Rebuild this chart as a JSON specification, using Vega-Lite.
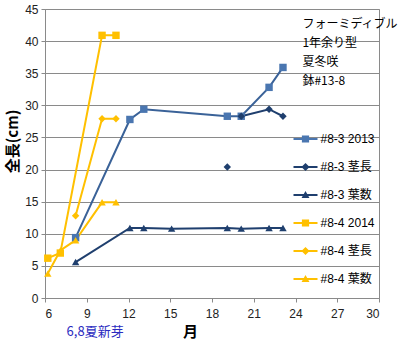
{
  "$schema": "https://vega.github.io/schema/vega-lite/v6.json",
  "width": 334,
  "height": 289,
  "autosize": {"type": "none"},
  "padding": {"left": 45, "top": 9, "right": 34, "bottom": 43},
  "background": "white",
  "config": {
    "view": {"stroke": "#8a8a8a", "strokeWidth": 1},
    "axis": {
      "labelFont": "Liberation Sans",
      "labelFontSize": 12,
      "labelColor": "#222222",
      "domainColor": "#8a8a8a",
      "tickColor": "#8a8a8a",
      "gridColor": "#8a8a8a",
      "tickSize": 4,
      "titleFont": "Noto Sans CJK JP",
      "titleColor": "#000000",
      "titleFontWeight": "bold"
    }
  },
  "data": {
    "values": [
      {"s": "#8-3 2013", "x": 8.2, "y": 9.4, "seg": 1},
      {"s": "#8-3 2013", "x": 12.1, "y": 27.8, "seg": 1},
      {"s": "#8-3 2013", "x": 13.1, "y": 29.4, "seg": 1},
      {"s": "#8-3 2013", "x": 19.1, "y": 28.3, "seg": 1},
      {"s": "#8-3 2013", "x": 20.1, "y": 28.3, "seg": 1},
      {"s": "#8-3 2013", "x": 22.1, "y": 32.8, "seg": 1},
      {"s": "#8-3 2013", "x": 23.1, "y": 35.9, "seg": 1},
      {"s": "#8-3 茎長", "x": 19.1, "y": 20.4, "seg": 2},
      {"s": "#8-3 茎長", "x": 20.1, "y": 28.3, "seg": 1},
      {"s": "#8-3 茎長", "x": 22.1, "y": 29.4, "seg": 1},
      {"s": "#8-3 茎長", "x": 23.1, "y": 28.3, "seg": 1},
      {"s": "#8-3 葉数", "x": 8.2, "y": 5.6, "seg": 1},
      {"s": "#8-3 葉数", "x": 12.1, "y": 10.9, "seg": 1},
      {"s": "#8-3 葉数", "x": 13.1, "y": 10.9, "seg": 1},
      {"s": "#8-3 葉数", "x": 15.1, "y": 10.8, "seg": 1},
      {"s": "#8-3 葉数", "x": 19.1, "y": 10.9, "seg": 1},
      {"s": "#8-3 葉数", "x": 20.1, "y": 10.8, "seg": 1},
      {"s": "#8-3 葉数", "x": 22.1, "y": 10.9, "seg": 1},
      {"s": "#8-3 葉数", "x": 23.1, "y": 10.9, "seg": 1},
      {"s": "#8-4 2014", "x": 6.2, "y": 6.2, "seg": 1},
      {"s": "#8-4 2014", "x": 7.1, "y": 7.0, "seg": 1},
      {"s": "#8-4 2014", "x": 10.1, "y": 40.9, "seg": 1},
      {"s": "#8-4 2014", "x": 11.1, "y": 40.9, "seg": 1},
      {"s": "#8-4 茎長", "x": 8.2, "y": 12.8, "seg": 1},
      {"s": "#8-4 茎長", "x": 10.1, "y": 27.9, "seg": 1},
      {"s": "#8-4 茎長", "x": 11.1, "y": 27.9, "seg": 1},
      {"s": "#8-4 葉数", "x": 6.2, "y": 3.8, "seg": 1},
      {"s": "#8-4 葉数", "x": 7.1, "y": 7.4, "seg": 1},
      {"s": "#8-4 葉数", "x": 8.2, "y": 9.0, "seg": 1},
      {"s": "#8-4 葉数", "x": 10.1, "y": 14.9, "seg": 1},
      {"s": "#8-4 葉数", "x": 11.1, "y": 14.9, "seg": 1}
    ]
  },
  "resolve": {"scale": {"shape": "independent", "color": "independent"}},
  "layer": [
    {
      "mark": {"type": "line", "strokeWidth": 2},
      "encoding": {
        "x": {
          "field": "x", "type": "quantitative",
          "scale": {"domain": [6, 30], "nice": false, "zero": false},
          "axis": {"values": [6, 9, 12, 15, 18, 21, 24, 27, 30], "grid": false, "title": "月", "titleFontSize": 15, "titleX": 145, "titleY": 33, "titleBaseline": "middle", "labelPadding": 6}
        },
        "y": {
          "field": "y", "type": "quantitative",
          "scale": {"domain": [0, 45], "nice": false},
          "axis": {"values": [0, 5, 10, 15, 20, 25, 30, 35, 40, 45], "grid": true, "title": "全長(cm)", "titleFontSize": 15, "titleX": -33, "titleY": 132, "titleBaseline": "middle", "titleAlign": "center", "labelPadding": 3}
        },
        "stroke": {
          "field": "s", "type": "nominal", "legend": null,
          "scale": {"domain": ["#8-3 2013", "#8-3 茎長", "#8-3 葉数", "#8-4 2014", "#8-4 茎長", "#8-4 葉数"],
                    "range": ["#3a6298", "#1f3f6e", "#1f3f6e", "#ffc000", "#ffc000", "#ffc000"]}
        },
        "detail": {"field": "seg", "type": "nominal"},
        "order": {"field": "x", "type": "quantitative"}
      }
    },
    {
      "mark": {"type": "point", "filled": true, "opacity": 1, "size": 55},
      "encoding": {
        "x": {
          "field": "x", "type": "quantitative",
          "scale": {"domain": [6, 30], "nice": false, "zero": false},
          "axis": {"values": [6, 9, 12, 15, 18, 21, 24, 27, 30], "grid": false, "title": "月", "titleFontSize": 15, "titleX": 145, "titleY": 33, "titleBaseline": "middle", "labelPadding": 6}
        },
        "y": {
          "field": "y", "type": "quantitative",
          "scale": {"domain": [0, 45], "nice": false},
          "axis": {"values": [0, 5, 10, 15, 20, 25, 30, 35, 40, 45], "grid": true, "title": "全長(cm)", "titleFontSize": 15, "titleX": -33, "titleY": 132, "titleBaseline": "middle", "titleAlign": "center", "labelPadding": 3}
        },
        "color": {
          "field": "s", "type": "nominal", "legend": null,
          "scale": {"domain": ["#8-3 2013", "#8-3 茎長", "#8-3 葉数", "#8-4 2014", "#8-4 茎長", "#8-4 葉数"],
                    "range": ["#4a76b0", "#1f3f6e", "#1f3f6e", "#ffc000", "#ffc000", "#ffc000"]}
        },
        "shape": {
          "field": "s", "type": "nominal", "legend": null,
          "scale": {"domain": ["#8-3 2013", "#8-3 茎長", "#8-3 葉数", "#8-4 2014", "#8-4 茎長", "#8-4 葉数"],
                    "range": ["square", "diamond", "triangle-up", "square", "diamond", "triangle-up"]}
        }
      }
    },
    {
      "data": {"values": [{"note": "label"}]},
      "mark": {"type": "text", "align": "left", "baseline": "top", "font": "Noto Sans CJK JP", "fontSize": 12, "lineHeight": 19, "fill": "#000000"},
      "encoding": {
        "x": {
          "datum": 24.5, "type": "quantitative",
          "scale": {"domain": [6, 30], "nice": false, "zero": false},
          "axis": {"values": [6, 9, 12, 15, 18, 21, 24, 27, 30], "grid": false, "title": "月", "titleFontSize": 15, "titleX": 145, "titleY": 33, "titleBaseline": "middle", "labelPadding": 6}
        },
        "y": {
          "datum": 43.4, "type": "quantitative",
          "scale": {"domain": [0, 45], "nice": false},
          "axis": {"values": [0, 5, 10, 15, 20, 25, 30, 35, 40, 45], "grid": true, "title": "全長(cm)", "titleFontSize": 15, "titleX": -33, "titleY": 132, "titleBaseline": "middle", "titleAlign": "center", "labelPadding": 3}
        },
        "text": {"value": ["フォーミディブル", "1年余り型", "夏冬咲", "鉢#13-8"]}
      }
    },
    {
      "data": {"values": [{"note": "label"}]},
      "mark": {"type": "text", "align": "center", "baseline": "middle", "font": "Noto Sans CJK JP", "fontSize": 13, "fill": "#2b2bc0"},
      "encoding": {
        "x": {
          "datum": 9.6, "type": "quantitative",
          "scale": {"domain": [6, 30], "nice": false, "zero": false},
          "axis": {"values": [6, 9, 12, 15, 18, 21, 24, 27, 30], "grid": false, "title": "月", "titleFontSize": 15, "titleX": 145, "titleY": 33, "titleBaseline": "middle", "labelPadding": 6}
        },
        "y": {
          "datum": -5.3, "type": "quantitative",
          "scale": {"domain": [0, 45], "nice": false},
          "axis": {"values": [0, 5, 10, 15, 20, 25, 30, 35, 40, 45], "grid": true, "title": "全長(cm)", "titleFontSize": 15, "titleX": -33, "titleY": 132, "titleBaseline": "middle", "titleAlign": "center", "labelPadding": 3}
        },
        "text": {"value": "6,8夏新芽"}
      }
    },
    {
      "transform": [{"filter": "datum.y > 1000"}],
      "mark": {"type": "point", "filled": true, "opacity": 1},
      "encoding": {
        "color": {
          "field": "s", "type": "nominal",
          "scale": {"domain": ["#8-3 2013", "#8-3 茎長", "#8-3 葉数", "#8-4 2014", "#8-4 茎長", "#8-4 葉数"],
                    "range": ["#4a76b0", "#1f3f6e", "#1f3f6e", "#ffc000", "#ffc000", "#ffc000"]},
          "legend": {
            "orient": "none", "legendX": 248.5, "legendY": 118, "title": null, "padding": 0,
            "symbolSize": 576, "symbolStrokeWidth": 0, "rowPadding": 10, "labelOffset": 3,
            "labelFont": "Liberation Sans, Noto Sans CJK JP", "labelFontSize": 12, "labelColor": "#000000"
          }
        },
        "shape": {
          "field": "s", "type": "nominal",
          "scale": {"domain": ["#8-3 2013", "#8-3 茎長", "#8-3 葉数", "#8-4 2014", "#8-4 茎長", "#8-4 葉数"],
                    "range": [
                      "M-1,-0.09H1V0.09H-1Z M-0.3,-0.3H0.3V0.3H-0.3Z",
                      "M-1,-0.09H1V0.09H-1Z M0,-0.34L0.34,0L0,0.34L-0.34,0Z",
                      "M-1,-0.09H1V0.09H-1Z M0,-0.34L0.33,0.24H-0.33Z",
                      "M-1,-0.09H1V0.09H-1Z M-0.3,-0.3H0.3V0.3H-0.3Z",
                      "M-1,-0.09H1V0.09H-1Z M0,-0.34L0.34,0L0,0.34L-0.34,0Z",
                      "M-1,-0.09H1V0.09H-1Z M0,-0.34L0.33,0.24H-0.33Z"
                    ]},
          "legend": {
            "orient": "none", "legendX": 248.5, "legendY": 118, "title": null, "padding": 0,
            "symbolSize": 576, "symbolStrokeWidth": 0, "rowPadding": 10, "labelOffset": 3,
            "labelFont": "Liberation Sans, Noto Sans CJK JP", "labelFontSize": 12, "labelColor": "#000000"
          }
        }
      }
    }
  ]
}
